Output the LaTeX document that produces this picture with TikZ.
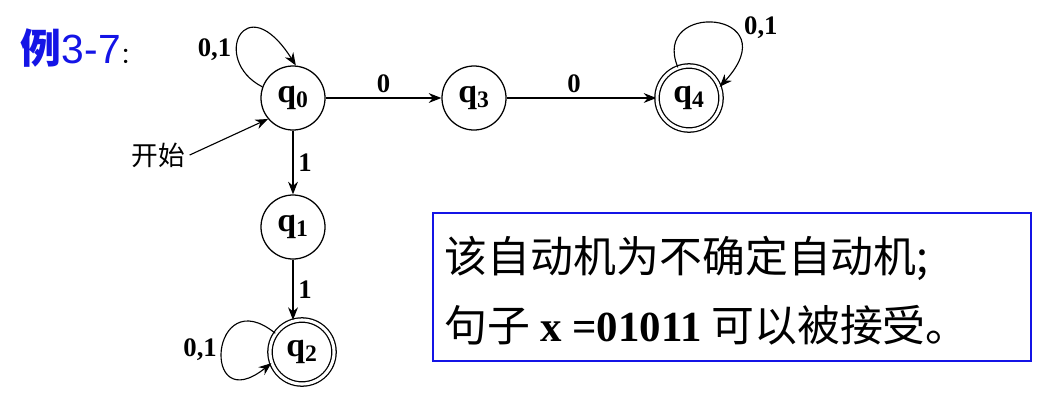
\documentclass[tikz,border=0pt]{standalone}
\usepackage{fontspec}
\setmainfont{Liberation Serif}
\newfontfamily\cjk{Noto Sans CJK SC}
\newfontfamily\lsans{Liberation Sans}
\usetikzlibrary{arrows.meta}
\definecolor{tblue}{RGB}{20,20,230}
\begin{document}
\begin{tikzpicture}[x=0.025cm,y=-0.025cm,
  st/.style={circle,draw,line width=0.9pt,minimum size=1.6cm,inner sep=0pt,font=\fontsize{24}{26}\selectfont\bfseries},
  acc/.style={st,double,double distance=2.2pt},
  lbl/.style={font=\fontsize{19}{22}\selectfont\bfseries},
  ar/.style={-{Stealth[length=9pt,width=7pt]},line width=0.8pt}]
\useasboundingbox (0,0) rectangle (1056,404);
\node[st] (q0) at (293,98) {q$_\mathbf{0}$};
\node[st] (q3) at (474,98) {q$_\mathbf{3}$};
\node[acc] (q4) at (689,98) {q$_\mathbf{4}$};
\node[st] (q1) at (293,227) {q$_\mathbf{1}$};
\node[acc] (q2) at (302,352) {q$_\mathbf{2}$};
\node[font=\fontsize{29}{32}\selectfont,text=tblue,anchor=west] (t) at (16,48) {{\cjk\bfseries 例}{\lsans 3-7}{\cjk\normalcolor\fontsize{16}{18}\selectfont ：}};
\node[font=\cjk\fontsize{19}{22}\selectfont] (start) at (158,155) {开始};
\draw[ar] (start.east) -- (q0.220);
\draw[ar] (q0) -- node[lbl,above]{0} (q3);
\draw[ar] (q3) -- node[lbl,above,pos=0.45]{0} (q4);
\draw[ar] (q0) -- node[lbl,right]{1} (q1);
\coordinate (q2top) at (293,320);
\draw[ar] (q1) -- node[lbl,right]{1} (q2top);
\draw[ar] (q0.160) .. controls (210,60) and (245,-15) .. node[lbl,left,pos=0.35]{0,1} (q0.85);
\draw[ar] (q4.110) .. controls (650,0) and (790,10) .. node[lbl,right,pos=0.75,yshift=10pt]{0,1} (q4.20);
\draw[ar] (q2.145) .. controls (210,280) and (200,420) .. node[lbl,left,pos=0.5]{0,1} (q2.200);
\node[draw=tblue,line width=1.3pt,minimum width=598*0.025cm,minimum height=148*0.025cm,anchor=north west] (box) at (432,212) {};
\node[anchor=west,font=\cjk\fontsize{30.5}{33}\selectfont] (l1) at (440,258) {该自动机为不确定自动机;};
\node[anchor=west,font=\cjk\fontsize{30.5}{33}\selectfont] (l2) at (440,325) {句子 {\rmfamily\bfseries x =01011} 可以被接受。};
\end{tikzpicture}
\end{document}
